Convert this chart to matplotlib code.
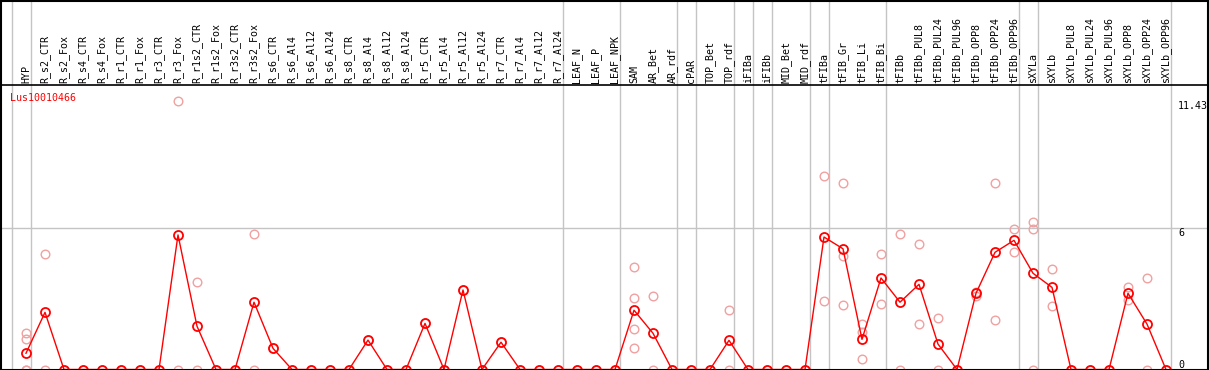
import matplotlib
matplotlib.use("Agg")
import matplotlib.pyplot as plt
from matplotlib.transforms import blended_transform_factory
from matplotlib.patches import Rectangle

gene = "Lus10010466"

samples = ["HYP",
           "R_s2_CTR", "R_s2_Fox", "R_s4_CTR", "R_s4_Fox", "R_r1_CTR", "R_r1_Fox",
           "R_r3_CTR", "R_r3_Fox", "R_r1s2_CTR", "R_r1s2_Fox", "R_r3s2_CTR", "R_r3s2_Fox",
           "R_s6_CTR", "R_s6_Al4", "R_s6_Al12", "R_s6_Al24",
           "R_s8_CTR", "R_s8_Al4", "R_s8_Al12", "R_s8_Al24",
           "R_r5_CTR", "R_r5_Al4", "R_r5_Al12", "R_r5_Al24",
           "R_r7_CTR", "R_r7_Al4", "R_r7_Al12", "R_r7_Al24",
           "LEAF_N", "LEAF_P", "LEAF_NPK",
           "SAM", "AR_Bet", "AR_rdf", "cPAR", "TOP_Bet", "TOP_rdf",
           "iFIBa", "iFIBb", "MID_Bet", "MID_rdf",
           "tFIBa", "tFIB_Gr", "tFIB_Li", "tFIB_Bi",
           "tFIBb", "tFIBb_PUL8", "tFIBb_PUL24", "tFIBb_PUL96",
           "tFIBb_OPP8", "tFIBb_OPP24", "tFIBb_OPP96",
           "sXYLa", "sXYLb", "sXYLb_PUL8", "sXYLb_PUL24", "sXYLb_PUL96",
           "sXYLb_OPP8", "sXYLb_OPP24", "sXYLb_OPP96"]

# mean expression per sample
means = [0.69, 2.43, 0, 0, 0, 0, 0, 0, 5.72, 1.84, 0, 0, 2.86,
         0.90, 0, 0, 0, 0, 1.25, 0, 0, 1.96, 0, 3.38, 0, 1.16, 0, 0, 0,
         0, 0, 0, 2.52, 1.54, 0, 0, 0, 1.24, 0, 0, 0, 0,
         5.63, 5.13, 1.28, 3.89, 2.86, 3.62, 1.08, 0, 3.24, 4.98, 5.49,
         4.09, 3.49, 0, 0, 0, 3.24, 1.93, 0]

# replicate values (samples not listed: replicate == mean)
replicates = {
    "HYP": [1.54, 1.28, 0, 0],
    "R_s2_CTR": [4.90, 0],
    "R_r3_Fox": [11.43, 0],
    "R_r1s2_CTR": [3.71, 0],
    "R_r3s2_Fox": [5.75, 0],
    "SAM": [4.34, 3.03, 1.71, 0.90],
    "AR_Bet": [3.11, 0],
    "TOP_rdf": [2.53, 0],
    "tFIBa": [8.22, 2.90],
    "tFIB_Gr": [7.94, 4.81, 2.73],
    "tFIB_Li": [1.93, 1.61, 0.43],
    "tFIB_Bi": [4.91, 2.77],
    "tFIBb": [5.75, 0],
    "tFIBb_PUL8": [5.32, 1.93],
    "tFIBb_PUL24": [2.18, 0],
    "tFIBb_OPP8": [3.31, 3.14],
    "tFIBb_OPP24": [7.91, 2.09],
    "tFIBb_OPP96": [5.96, 4.98],
    "sXYLa": [6.26, 5.98, 0],
    "sXYLb": [4.26, 2.69],
    "sXYLb_OPP8": [3.51, 2.97],
    "sXYLb_OPP24": [3.88, 0],
}

# last sample of each group (separator drawn after it), -1 = before first
group_ends = [-1, 0, 28, 31, 34, 35, 37, 38, 39, 41, 42, 45, 52, 53, 60]

y_marks = [11.43, 6, 0]

W, H = 1209, 370
fig = plt.figure(figsize=(W / 100, H / 100), dpi=100)

# plot area in pixels
left_px, right_px, top_px, bot_px = 1, 1208, 85, 369.5
x0_px, step_px = 26, 19
px_per_unit = 23.53

ax = fig.add_axes([left_px / W, (H - bot_px) / H, (right_px - left_px) / W, (bot_px - top_px) / H])
ax.set_xlim((left_px - x0_px) / step_px, (right_px - x0_px) / step_px)
ax.set_ylim(0, (bot_px - top_px) / px_per_unit)
ax.set_xticks([])
ax.set_yticks([])
for s in ax.spines.values():
    s.set_color("black")
    s.set_linewidth(1.2)

grey = "#c4c4c4"
mono = "DejaVu Sans Mono"
fs = 7.2

trans = blended_transform_factory(ax.transData, ax.transAxes)
top_frac = (bot_px - 0) / (bot_px - top_px)
for g in group_ends:
    ax.plot([g + 0.24, g + 0.24], [0, top_frac], color=grey, lw=1.0,
            transform=trans, clip_on=False, zorder=1)

ax.axhline(6, color=grey, lw=1.0, zorder=1)

xs = list(range(len(samples)))

# replicates
for i, name in enumerate(samples):
    vals = replicates.get(name, [means[i]])
    ax.plot([i] * len(vals), vals, linestyle="none", marker="o", ms=6.2,
            mfc="none", mec="#f0a0a0", mew=1.0, clip_on=False, zorder=2)

ax.plot(xs, means, color="red", lw=1.0, marker="o", ms=6.5, mfc="none",
        mec="red", mew=1.3, clip_on=False, zorder=3)

# sample labels
for i, name in enumerate(samples):
    ax.text(i, 1.0, name, transform=trans, rotation=90, ha="center",
            va="bottom", fontsize=fs, family=mono,
            transform_rotates_text=False).set_y(1 + 2 / (bot_px - top_px))

# value marks on the right
xr = (1178 - x0_px) / step_px
for v in y_marks:
    ax.text(xr, v, "%g" % v if v != 11.43 else "11.43", ha="left",
            va="bottom" if v == 0 else "top", fontsize=fs, family=mono,
            clip_on=False)

fig.text(10 / W, 1 - 98 / H, gene, color="red", fontsize=fs, family=mono,
         ha="left", va="center")

fig.patches.append(Rectangle((0.5 / W, 0.5 / H), (W - 1.5) / W, (H - 1) / H,
                             transform=fig.transFigure, fill=False,
                             edgecolor="black", lw=1.5))

fig.savefig("out.png", dpi=100)
